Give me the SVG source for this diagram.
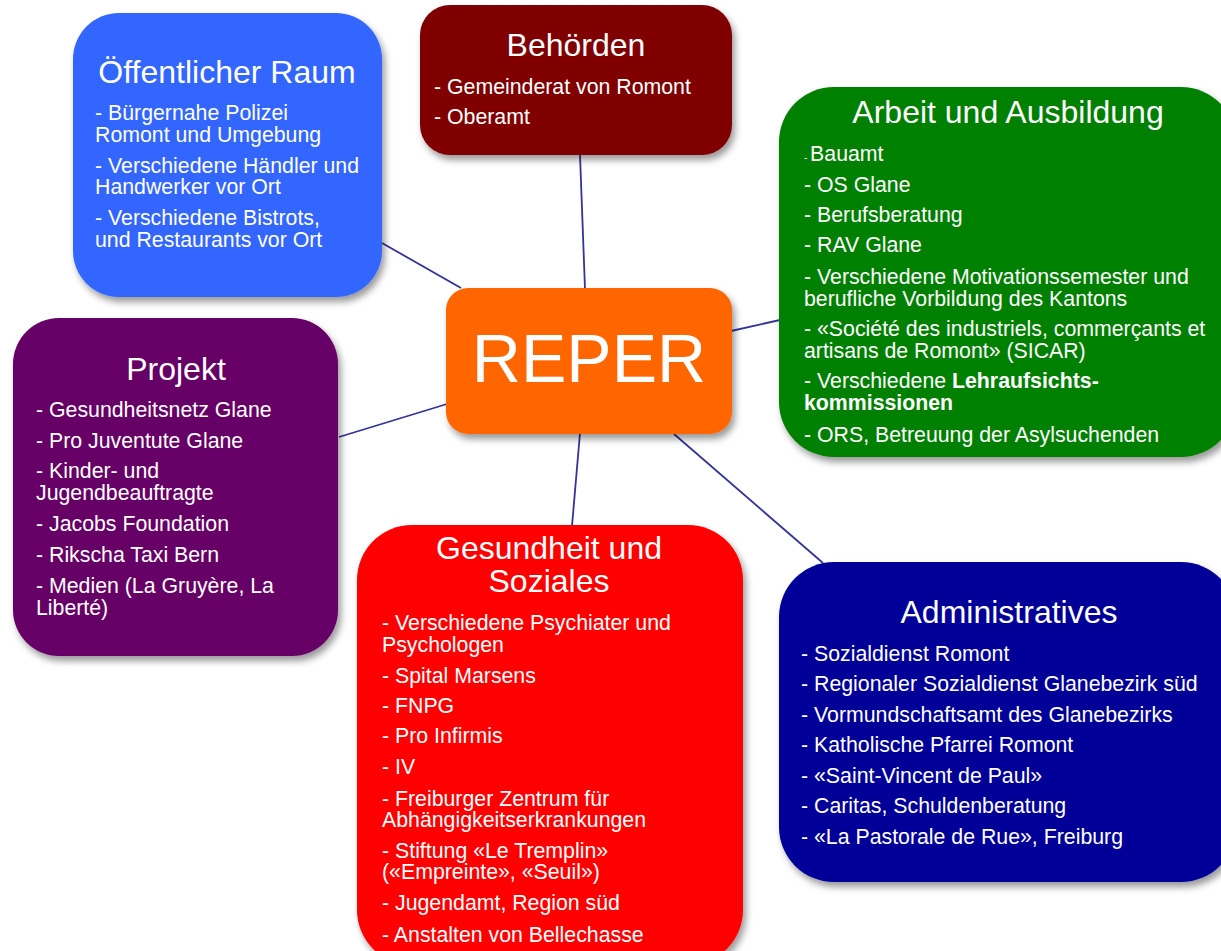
<svg xmlns="http://www.w3.org/2000/svg" width="1221" height="951" viewBox="0 0 1221 951">
  <defs>
    <filter id="shadow" x="-10%" y="-10%" width="125%" height="130%">
      <feDropShadow dx="3" dy="5" stdDeviation="3.5" flood-color="#000" flood-opacity="0.4"/>
    </filter>
    <style>
      text { font-family: "Liberation Sans", Arial, sans-serif; fill: #ffffff; }
      .title { font-size: 32px; text-anchor: middle; }
      .item { font-size: 21.3px; }
      .hub { font-size: 68px; text-anchor: middle; }
      .b { font-weight: bold; }
      .box { filter: url(#shadow); }
      .link { stroke: #333399; stroke-width: 1.8; fill: none; }
    </style>
  </defs>
  <rect width="1221" height="951" fill="#ffffff"/>

  <!-- connectors from the hub to each category -->
  <g id="connectors">
    <line class="link" x1="382" y1="243" x2="461" y2="288"/>
    <line class="link" x1="580" y1="155" x2="585" y2="289"/>
    <line class="link" x1="731" y1="331" x2="780" y2="320"/>
    <line class="link" x1="339" y1="437" x2="447" y2="404"/>
    <line class="link" x1="580" y1="433" x2="572" y2="526"/>
    <line class="link" x1="674" y1="434" x2="823" y2="563"/>
  </g>

  <g id="oeffentlicher-raum">
    <rect class="box" x="73" y="13" width="309" height="284" rx="46" fill="#3366ff"/>
    <text class="title" x="227" y="83">Öffentlicher Raum</text>
    <text class="item" x="95" y="120">- Bürgernahe Polizei</text>
    <text class="item" x="95" y="142">Romont und Umgebung</text>
    <text class="item" x="95" y="173">- Verschiedene Händler und</text>
    <text class="item" x="95" y="194">Handwerker vor Ort</text>
    <text class="item" x="95" y="225">- Verschiedene Bistrots,</text>
    <text class="item" x="95" y="247">und Restaurants vor Ort</text>
  </g>

  <g id="behoerden">
    <rect class="box" x="420" y="5" width="312" height="150" rx="30" fill="#800000"/>
    <text class="title" x="576" y="56">Behörden</text>
    <text class="item" x="434" y="94">- Gemeinderat von Romont</text>
    <text class="item" x="434" y="124">- Oberamt</text>
  </g>

  <g id="arbeit-und-ausbildung">
    <rect class="box" x="779" y="87" width="457" height="370" rx="55" fill="#008000"/>
    <text class="title" x="1008" y="123">Arbeit und Ausbildung</text>
    <text class="item" x="804" y="161"><tspan font-size="10">- </tspan>Bauamt</text>
    <text class="item" x="804" y="192">- OS Glane</text>
    <text class="item" x="804" y="222">- Berufsberatung</text>
    <text class="item" x="804" y="252">- RAV Glane</text>
    <text class="item" x="804" y="284">- Verschiedene Motivationssemester und</text>
    <text class="item" x="804" y="306">berufliche Vorbildung des Kantons</text>
    <text class="item" x="804" y="336">- «Société des industriels, commerçants et</text>
    <text class="item" x="804" y="358">artisans de Romont» (SICAR)</text>
    <text class="item" x="804" y="388">- Verschiedene <tspan class="b">Lehraufsichts-</tspan></text>
    <text class="item b" x="804" y="410">kommissionen</text>
    <text class="item" x="804" y="442">- ORS, Betreuung der Asylsuchenden</text>
  </g>

  <g id="projekt">
    <rect class="box" x="13" y="318" width="325" height="338" rx="46" fill="#660066"/>
    <text class="title" x="176" y="380">Projekt</text>
    <text class="item" x="36" y="417">- Gesundheitsnetz Glane</text>
    <text class="item" x="36" y="448">- Pro Juventute Glane</text>
    <text class="item" x="36" y="478">- Kinder- und</text>
    <text class="item" x="36" y="500">Jugendbeauftragte</text>
    <text class="item" x="36" y="531">- Jacobs Foundation</text>
    <text class="item" x="36" y="562">- Rikscha Taxi Bern</text>
    <text class="item" x="36" y="593">- Medien (La Gruyère, La</text>
    <text class="item" x="36" y="615">Liberté)</text>
  </g>

  <g id="gesundheit-und-soziales">
    <rect class="box" x="357" y="525" width="386" height="440" rx="55" fill="#ff0000"/>
    <text class="title" x="549" y="559">Gesundheit und</text>
    <text class="title" x="549" y="592">Soziales</text>
    <text class="item" x="382" y="630">- Verschiedene Psychiater und</text>
    <text class="item" x="382" y="652">Psychologen</text>
    <text class="item" x="382" y="683">- Spital Marsens</text>
    <text class="item" x="382" y="713">- FNPG</text>
    <text class="item" x="382" y="743">- Pro Infirmis</text>
    <text class="item" x="382" y="774">- IV</text>
    <text class="item" x="382" y="806">- Freiburger Zentrum für</text>
    <text class="item" x="382" y="827">Abhängigkeitserkrankungen</text>
    <text class="item" x="382" y="858">- Stiftung «Le Tremplin»</text>
    <text class="item" x="382" y="879">(«Empreinte», «Seuil»)</text>
    <text class="item" x="382" y="910">- Jugendamt, Region süd</text>
    <text class="item" x="382" y="942">- Anstalten von Bellechasse</text>
  </g>

  <g id="administratives">
    <rect class="box" x="779" y="562" width="457" height="320" rx="55" fill="#000099"/>
    <text class="title" x="1009" y="623">Administratives</text>
    <text class="item" x="801" y="661">- Sozialdienst Romont</text>
    <text class="item" x="801" y="691">- Regionaler Sozialdienst Glanebezirk süd</text>
    <text class="item" x="801" y="722">- Vormundschaftsamt des Glanebezirks</text>
    <text class="item" x="801" y="752">- Katholische Pfarrei Romont</text>
    <text class="item" x="801" y="783">- «Saint-Vincent de Paul»</text>
    <text class="item" x="801" y="813">- Caritas, Schuldenberatung</text>
    <text class="item" x="801" y="844">- «La Pastorale de Rue», Freiburg</text>
  </g>

  <g id="reper">
    <rect class="box" x="446" y="288" width="286" height="146" rx="22" fill="#ff6600"/>
    <text class="hub" x="589" y="382">REPER</text>
  </g>
</svg>
